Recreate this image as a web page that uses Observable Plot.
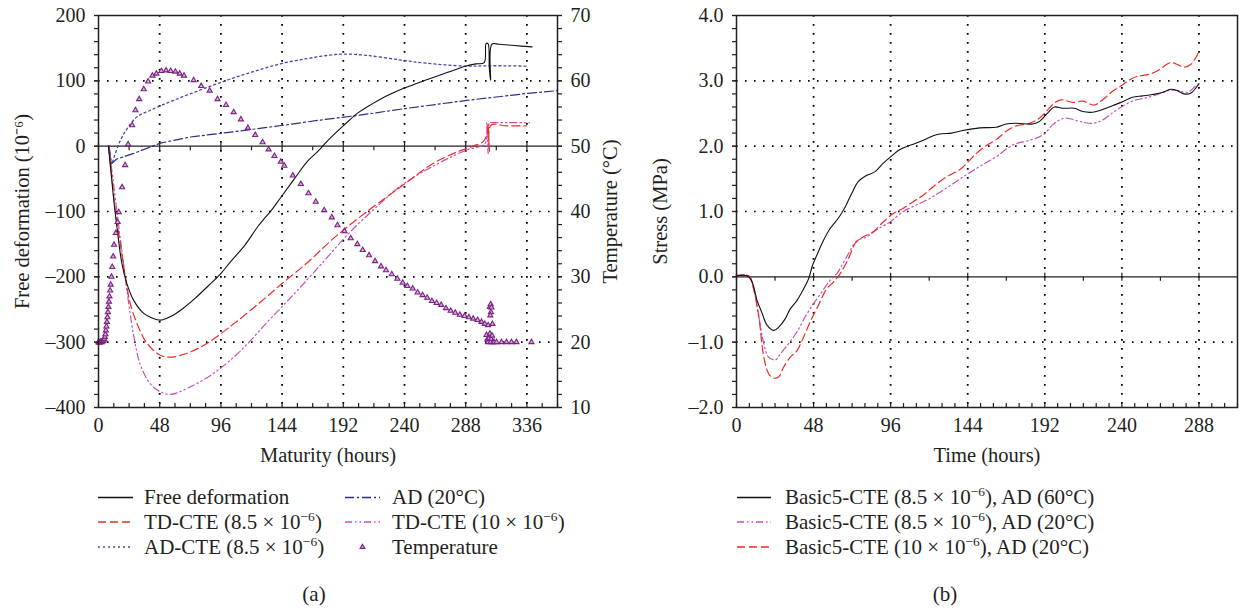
<!DOCTYPE html>
<html><head><meta charset="utf-8">
<script src="https://cdn.jsdelivr.net/npm/d3@7"></script>
<script src="https://cdn.jsdelivr.net/npm/@observablehq/plot@0.6"></script>
<style>
body{margin:0;background:#fff;}
#wrap{position:relative;width:1243px;height:610px;overflow:hidden;font-family:"Liberation Serif","Times New Roman",serif;}
#pa,#pb{position:absolute;top:0;}
#pa{left:0px} #pb{left:640px}
#lg{position:absolute;left:0;top:470px;}
</style></head><body><div id="wrap"><div id="pa"></div><div id="pb"></div><svg id="lg" width="1243" height="140"></svg></div>
<script>
// ---------------- Panel (a) data ----------------
const maturityTicks = [0, 48, 96, 144, 192, 240, 288, 336];
const deformTicks = [-400, -300, -200, -100, 0, 100, 200];
const tempTicks = [10, 20, 30, 40, 50, 60, 70];

const freeH = [7.8, 9.1, 11.7, 14.4, 18.3, 22.2, 27.6, 35.5, 42, 47, 49.6, 57.4, 66.5, 75.7, 86, 95, 104, 115, 125, 136, 143.5, 154, 164, 172, 180, 193, 203.5, 214, 227, 240, 258, 274, 287, 296, 302.5, 304, 305.5, 306.5, 307.5, 308.5, 314, 326, 340];
const freeV = [0, -26, -77, -123, -179, -210, -236, -256, -263, -266, -266, -260, -248, -233, -214, -197, -176, -151, -123, -97, -77, -49, -23, -8, 9, 33, 51, 64, 78, 89, 102, 113, 122, 126, 128, 157, 157, 120, 101, 156, 156, 154, 152];

const tdH = [7.8, 10.4, 13, 17, 21, 24.8, 30.3, 38.1, 48.5, 56.4, 69.4, 85, 106, 128, 143.5, 164, 185, 210, 236.5, 262, 281, 293.6, 301.7, 304.8, 305.6, 306.6, 307.8, 320, 335.6];
const tdV = [0, -46, -97, -148, -200, -240, -272, -302, -320, -323, -317, -302, -272, -237, -211, -178, -140, -101, -63, -27, -9, 0, 7, 19, 34, -8, 32, 31, 31];

const adcteH = [8.3, 10.4, 12, 17.2, 22.5, 30.3, 40.7, 58.7, 79.9, 100.8, 121.4, 142.5, 163.4, 180, 192, 210, 236.5, 257, 288.6, 304, 320, 335.6];
const adcteV = [0, -27, -18, 9, 27, 45, 55, 70, 86, 101, 114, 126, 134, 139, 141, 139, 132, 127, 122.5, 123, 123, 122.5];

const adH = [8.3, 10.2, 14, 27.6, 48.5, 72, 105.8, 145, 174, 205, 236.5, 288.6, 335.6, 360];
const adV = [0, -27, -20, -11, 4.6, 14, 22, 32, 40, 47.5, 56.5, 70, 80.6, 85];

const td10H = [7.8, 10.4, 13, 17, 21, 24, 27.6, 32.9, 40.7, 48.5, 56.4, 69.4, 90, 111, 133, 154, 175, 196, 217, 237, 262, 288.6, 303, 304.6, 305.6, 306.6, 307.6, 320, 338];
const td10V = [0, -36, -77, -140, -200, -245, -290, -335, -364, -376, -380, -371, -348, -314, -268, -225, -180, -134, -95, -61, -31, -6, 4, 36, -12, 36, 36, 36, 36];

const tempH = [0, 0.6, 1.2, 1.8, 2.4, 3, 3.5, 4, 4.5, 5, 5.4, 5.8, 6.2, 6.6, 7, 7.4, 7.8, 8.2, 8.6, 9.1, 9.6, 10.2, 10.8, 11.5, 12.2, 13.6, 15, 15.9, 18.5, 20.9, 23.2, 26.4, 29, 31.9, 35.5, 38.9, 42.3, 45.4, 49.3, 53, 56.6, 60.3, 63.7, 67.1, 74.6, 80.6, 87.2, 93.4, 100, 106, 111.7, 117.2, 122.9, 128.7, 133.4, 138, 143, 145.7, 152.4, 158.7, 164.7, 170.4, 177, 183, 187.4, 192.9, 197.8, 203, 207.2, 212.2, 216.9, 221.6, 225.5, 230, 234.4, 238.6, 242.2, 246.4, 250.3, 254.2, 257.8, 261.5, 265.2, 268.8, 272.5, 276.2, 279.8, 283.4, 287.1, 290.5, 293.9, 297.3, 300.4, 303, 305.6, 309, 307, 307.6, 308.2, 307.8, 307.3, 304.3, 305, 305.5, 306.3, 307, 307.5, 308, 308.7, 309.5, 310.3, 312.2, 316.1, 320, 323.9, 327.8, 339.6];
const tempC = [20, 19.9, 20, 20.1, 20, 20.1, 20.2, 20.3, 20.5, 20.8, 21.2, 21.8, 22.4, 23.1, 23.8, 24.6, 25.4, 26.2, 27, 27.9, 28.8, 30, 31.5, 33.1, 34.9, 36.7, 38.4, 39.9, 43.7, 47.1, 50.3, 53.2, 55.5, 57.2, 58.7, 59.9, 60.8, 61.1, 61.5, 61.6, 61.5, 61.4, 61.1, 60.8, 60.1, 59.2, 58.5, 57.2, 56.3, 55.2, 54.1, 52.8, 51.7, 50.6, 49.5, 48.5, 47.6, 47.0, 45.5, 44.2, 42.8, 41.5, 40.2, 39.1, 37.9, 37.0, 35.9, 35.0, 34.1, 33.3, 32.4, 31.6, 31.0, 30.4, 29.7, 29.1, 28.6, 28.2, 27.6, 27.2, 26.8, 26.3, 26.0, 25.7, 25.2, 24.8, 24.5, 24.2, 24.0, 23.8, 23.6, 23.4, 23.1, 22.8, 22.6, 22.8, 25.4, 25.8, 25.3, 24.6, 24.1, 21.1, 20.4, 20, 20.6, 21.3, 20, 20.5, 21, 20, 20, 20, 20, 20, 20, 20, 20];

// ---------------- Panel (b) data ----------------
const timeTicks = [0, 48, 96, 144, 192, 240, 288];
const stressTicks = [-2, -1, 0, 1, 2, 3, 4];

const b60H = [0, 6.6, 9.7, 12.8, 16, 19, 23.2, 26.3, 30.4, 33.5, 37.7, 40.8, 44.9, 47, 50, 54.2, 58.3, 63.5, 67.7, 71.8, 75.9, 80.1, 86.3, 91.4, 96.6, 101.8, 109, 116.3, 122.5, 127.7, 133.9, 141, 151.5, 161.8, 168, 174.2, 184.6, 188.7, 193.9, 198, 203, 210.4, 215.6, 221.8, 228, 234.2, 240.4, 246.6, 252.8, 259, 265.2, 270.4, 274.6, 278.7, 282.8, 288];
const b60V = [0.015, 0.015, -0.08, -0.36, -0.56, -0.74, -0.82, -0.77, -0.64, -0.49, -0.36, -0.23, -0.03, 0.15, 0.33, 0.56, 0.74, 0.9, 1.07, 1.28, 1.46, 1.54, 1.61, 1.74, 1.85, 1.95, 2.02, 2.09, 2.16, 2.19, 2.2, 2.24, 2.28, 2.29, 2.34, 2.35, 2.34, 2.38, 2.51, 2.6, 2.58, 2.58, 2.53, 2.52, 2.56, 2.62, 2.68, 2.75, 2.77, 2.79, 2.82, 2.87, 2.85, 2.8, 2.81, 2.96];

const b85H = [0, 7.7, 10.8, 13.9, 17, 20, 24.2, 27.3, 32.5, 37.7, 42.8, 48, 53.2, 58.3, 62.5, 68.7, 74.9, 81.1, 87.3, 95.6, 103.9, 112.1, 120.4, 130.8, 141.1, 151.5, 161.8, 172.1, 182.5, 190.8, 197, 201.1, 205.2, 213.5, 221.8, 228, 234.2, 240.4, 247.7, 255, 262.3, 268.6, 274.9, 281, 285.9, 288];
const b85V = [0.015, 0.015, -0.2, -0.61, -1.02, -1.23, -1.27, -1.18, -1.02, -0.84, -0.61, -0.41, -0.23, -0.05, 0.05, 0.31, 0.55, 0.61, 0.72, 0.84, 1.0, 1.1, 1.2, 1.36, 1.53, 1.69, 1.84, 2.02, 2.09, 2.17, 2.33, 2.4, 2.43, 2.38, 2.35, 2.4, 2.51, 2.61, 2.7, 2.74, 2.79, 2.85, 2.85, 2.82, 2.92, 2.94];

const b10H = [0, 7.7, 10.8, 13.9, 17, 20, 23.2, 26.3, 29.4, 33.5, 37.7, 41.8, 45.9, 51.1, 56.3, 60.4, 64.6, 69.7, 73.9, 78, 85.2, 91.4, 97.7, 103.9, 110, 116.3, 122.5, 130.8, 139, 144.2, 149.4, 155.6, 161.8, 168, 174.2, 182.5, 188.7, 193.9, 198, 202.1, 209.4, 215.6, 222.8, 228, 234.2, 239.4, 244.5, 249.7, 257, 263.2, 270.4, 274.6, 278.7, 282.8, 285.9, 288];
const b10V = [0.015, 0.015, -0.2, -0.61, -1.23, -1.48, -1.55, -1.53, -1.38, -1.23, -1.13, -0.92, -0.69, -0.43, -0.18, -0.08, 0.05, 0.28, 0.51, 0.6, 0.69, 0.84, 0.97, 1.05, 1.15, 1.25, 1.38, 1.53, 1.64, 1.76, 1.89, 2.01, 2.1, 2.23, 2.31, 2.35, 2.43, 2.56, 2.66, 2.71, 2.67, 2.69, 2.63, 2.71, 2.84, 2.92, 3.01, 3.07, 3.1, 3.17, 3.28, 3.25, 3.21, 3.25, 3.35, 3.45];

// ---------------- styling ----------------
const FONT = '"Liberation Serif","Times New Roman",serif';
const INK = "#231f20";
const RED = "#ee2b24";
const MAG = "#c452b6";
const NAVY = "#2c2e84";
const BLUE = "#4646aa";
const PURPLE = "#7b2283";
const TRI_FILL = "#d7aed9";
const DASH_RED = "8,4";
const DASH_DOT = "2,3";
const DASH_DASHDOT = "9,3,2,3";
const DASH_DDOT = "7,3,1.5,3,1.5,3";
const GRID = {stroke: "#000", strokeWidth: 1.6, strokeDasharray: "1.6,7.4"};
const VGRID = {stroke: "#000", strokeOpacity: 1, strokeWidth: 1.8, strokeDasharray: "1.8,7.2", strokeLinecap: "butt"};
const TICK_CROSS = {draw(ctx) { ctx.moveTo(0, -4); ctx.lineTo(0, 4); }};
const TICK_DOWN = {draw(ctx) { ctx.moveTo(0, 0); ctx.lineTo(0, 4); }};
const en = "\u2013";
const fmtInt = d => d < 0 ? en + Math.abs(d) : String(d);
const fmt1 = d => d < 0 ? en + Math.abs(d).toFixed(1) : d.toFixed(1);
const pts = (hs, vs) => hs.map((h, i) => ({h, v: vs[i]}));
const toDef = t => (t - 50) * 10;
const label = (s, o) => Plot.text([s], {text: d => d, fontSize: 20.5, textAnchor: "middle", lineAnchor: "middle", ...o});

const freeData = pts(freeH, freeV), tdData = pts(tdH, tdV), adcteData = pts(adcteH, adcteV),
      adData = pts(adH, adV), td10Data = pts(td10H, td10V), tempData = pts(tempH, tempC);

const A = Plot.plot({
  width: 640, height: 470,
  marginLeft: 98, marginRight: 83, marginTop: 15, marginBottom: 63,
  style: {fontFamily: FONT, fontSize: "20px", color: INK, background: "none", overflow: "visible"},
  x: {domain: [0, 360]},
  y: {domain: [-400, 200]},
  marks: [
    Plot.ruleX(maturityTicks.filter(d => d > 0), VGRID),
    Plot.ruleY([-300, -200, -100, 100], GRID),
    Plot.ruleY([0], {stroke: INK, strokeWidth: 1.4}),
    Plot.dot(maturityTicks, {x: d => d, y: () => 0, symbol: TICK_CROSS, stroke: INK, fill: "none", strokeWidth: 1.2}),
    Plot.dot(d3.range(24, 360, 48), {x: d => d, y: () => 0, symbol: TICK_DOWN, stroke: INK, fill: "none", strokeWidth: 1.2}),
    Plot.line(adData, {x: "h", y: "v", stroke: NAVY, strokeWidth: 1.2, strokeDasharray: DASH_DASHDOT, clip: true}),
    Plot.line(adcteData, {x: "h", y: "v", stroke: BLUE, strokeWidth: 1.3, strokeDasharray: DASH_DOT, curve: "catmull-rom"}),
    Plot.line(td10Data, {x: "h", y: "v", stroke: MAG, strokeWidth: 1.2, strokeDasharray: DASH_DDOT, curve: "catmull-rom"}),
    Plot.line(tdData, {x: "h", y: "v", stroke: RED, strokeWidth: 1.2, strokeDasharray: DASH_RED, curve: "catmull-rom"}),
    Plot.line(freeData, {x: "h", y: "v", stroke: "#111", strokeWidth: 1.1, curve: "catmull-rom"}),
    Plot.dot(tempData, {x: "h", y: d => toDef(d.v), symbol: "triangle", r: 1.9, stroke: PURPLE, fill: TRI_FILL, strokeWidth: 1.1}),
    Plot.frame({stroke: INK, strokeWidth: 1.5}),
    Plot.axisY(deformTicks, {tickSize: 4, tickPadding: 9, tickFormat: fmtInt, label: null, strokeWidth: 1.2}),
    Plot.axisY(d3.range(-400, 201, 20), {tickSize: 4, fill: "none", label: null, strokeWidth: 1.2}),
    Plot.axisY(tempTicks.map(toDef), {anchor: "right", tickSize: 4, tickPadding: 9, tickFormat: d => String(d / 10 + 50), label: null, strokeWidth: 1.2}),
    Plot.axisY(d3.range(-400, 201, 20), {anchor: "right", tickSize: 4, fill: "none", label: null, strokeWidth: 1.2}),
    Plot.axisX(maturityTicks, {tickSize: 0, tickPadding: 10, label: null}),
    Plot.axisX(d3.range(0, 361, 12), {tickSize: -4, fill: "none", label: null, strokeWidth: 1.2}),
    label("Maturity (hours)", {frameAnchor: "bottom", dy: 48}),
    label("Free deformation (10\u207B\u2076)", {frameAnchor: "left", dx: -76, rotate: -90}),
    label("Temperature (\u00B0C)", {frameAnchor: "right", dx: 53, rotate: -90})
  ]
});
document.getElementById("pa").append(A);

const b60 = pts(b60H, b60V), b85 = pts(b85H, b85V), b10 = pts(b10H, b10V);
const B = Plot.plot({
  width: 603, height: 470,
  marginLeft: 96, marginRight: 6, marginTop: 15, marginBottom: 63,
  style: {fontFamily: FONT, fontSize: "20px", color: INK, background: "none", overflow: "visible"},
  x: {domain: [0, 312]},
  y: {domain: [-2, 4]},
  marks: [
    Plot.ruleX(timeTicks.filter(d => d > 0), VGRID),
    Plot.ruleY([-1, 1, 2, 3], GRID),
    Plot.ruleY([0], {stroke: INK, strokeWidth: 1.4}),
    Plot.dot(timeTicks, {x: d => d, y: () => 0, symbol: TICK_CROSS, stroke: INK, fill: "none", strokeWidth: 1.2}),
    Plot.dot(d3.range(24, 312, 48), {x: d => d, y: () => 0, symbol: TICK_DOWN, stroke: INK, fill: "none", strokeWidth: 1.2}),
    Plot.line(b85, {x: "h", y: "v", stroke: MAG, strokeWidth: 1.2, strokeDasharray: DASH_DDOT, curve: "catmull-rom"}),
    Plot.line(b10, {x: "h", y: "v", stroke: RED, strokeWidth: 1.2, strokeDasharray: DASH_RED, curve: "catmull-rom"}),
    Plot.line(b60, {x: "h", y: "v", stroke: "#111", strokeWidth: 1.1, curve: "catmull-rom"}),
    Plot.frame({stroke: INK, strokeWidth: 1.5}),
    Plot.axisY(stressTicks, {tickSize: 4, tickPadding: 9, tickFormat: fmt1, label: null, strokeWidth: 1.2}),
    Plot.axisY(d3.range(-2, 4.01, 0.2).map(d => +d.toFixed(1)), {tickSize: 4, fill: "none", label: null, strokeWidth: 1.2}),
    Plot.axisX(timeTicks, {tickSize: 0, tickPadding: 10, label: null}),
    Plot.axisX(d3.range(0, 313, 8), {tickSize: -4, fill: "none", label: null, strokeWidth: 1.2}),
    label("Time (hours)", {frameAnchor: "bottom", dy: 48}),
    label("Stress (MPa)", {frameAnchor: "left", dx: -76, rotate: -90})
  ]
});
document.getElementById("pb").append(B);

// ---------------- legends ----------------
const legA = [
  {col: 0, row: 0, stroke: "#111", dash: null, parts: ["Free deformation"]},
  {col: 0, row: 1, stroke: RED, dash: DASH_RED, parts: ["TD-CTE (8.5 \u00D7 10", {sup: "\u22126"}, ")"]},
  {col: 0, row: 2, stroke: BLUE, dash: DASH_DOT, parts: ["AD-CTE (8.5 \u00D7 10", {sup: "\u22126"}, ")"]},
  {col: 1, row: 0, stroke: NAVY, dash: DASH_DASHDOT, parts: ["AD (20\u00B0C)"]},
  {col: 1, row: 1, stroke: MAG, dash: DASH_DDOT, parts: ["TD-CTE (10 \u00D7 10", {sup: "\u22126"}, ")"]},
  {col: 1, row: 2, stroke: PURPLE, tri: true, parts: ["Temperature"]}
];
const legB = [
  {row: 0, stroke: "#111", dash: null, parts: ["Basic5-CTE (8.5 \u00D7 10", {sup: "\u22126"}, "), AD (60\u00B0C)"]},
  {row: 1, stroke: MAG, dash: DASH_DDOT, parts: ["Basic5-CTE (8.5 \u00D7 10", {sup: "\u22126"}, "), AD (20\u00B0C)"]},
  {row: 2, stroke: RED, dash: DASH_RED, parts: ["Basic5-CTE (10 \u00D7 10", {sup: "\u22126"}, "), AD (20\u00B0C)"]}
];
const lg = d3.select("#lg").style("font-family", FONT);
function addText(x, y, parts) {
  const t = lg.append("text").attr("x", x).attr("y", y).attr("font-size", 21).attr("fill", INK);
  parts.forEach(p => {
    if (typeof p === "string") t.append("tspan").text(p);
    else t.append("tspan").attr("font-size", 13.5).attr("baseline-shift", "8").text(p.sup);
  });
}
function addEntry(x0, x1, xt, yc, e) {
  if (e.tri) {
    const cx = (x0 + x1) / 2;
    lg.append("path").attr("d", d3.symbol(d3.symbolTriangle, 10)()).attr("transform", `translate(${cx},${yc})`)
      .attr("fill", TRI_FILL).attr("stroke", e.stroke).attr("stroke-width", 1.1);
  } else {
    lg.append("line").attr("x1", x0).attr("x2", x1).attr("y1", yc).attr("y2", yc)
      .attr("stroke", e.stroke).attr("stroke-width", 1.3).attr("stroke-dasharray", e.dash);
  }
  addText(xt, yc + 6.5, e.parts);
}
const rowsY = [27.5, 52, 77];
legA.forEach(e => {
  if (e.col === 0) addEntry(98, 133, 144, rowsY[e.row], e);
  else addEntry(345, 380, 392, rowsY[e.row], e);
});
legB.forEach(e => addEntry(737, 771, 785, rowsY[e.row], e));
lg.append("text").attr("x", 314).attr("y", 131).attr("text-anchor", "middle").attr("font-size", 21).attr("fill", INK).text("(a)");
lg.append("text").attr("x", 945).attr("y", 131).attr("text-anchor", "middle").attr("font-size", 21).attr("fill", INK).text("(b)");
</script>
</body></html>
